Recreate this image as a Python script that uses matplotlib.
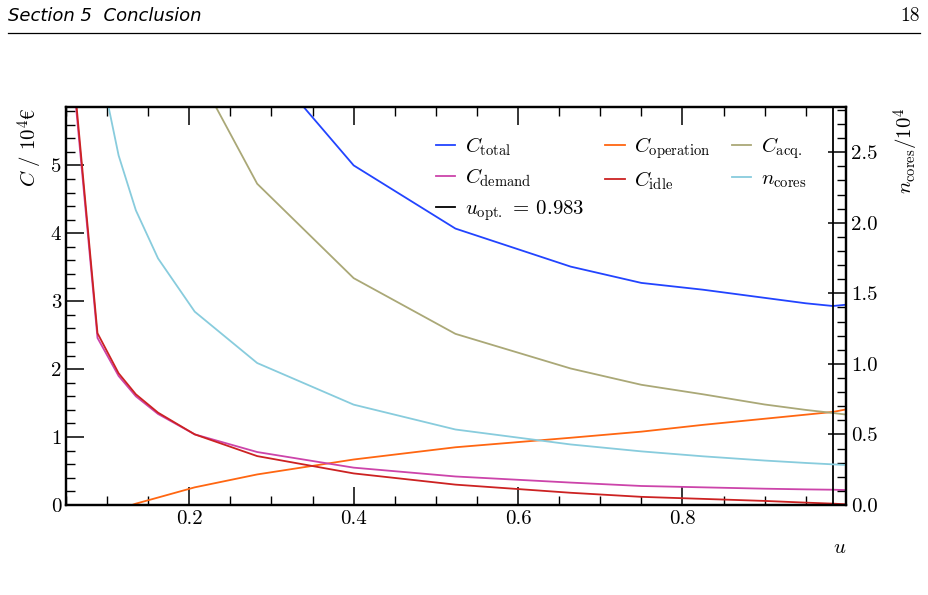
import numpy as np
import matplotlib
matplotlib.use("Agg")
import matplotlib.pyplot as plt
from matplotlib.ticker import MultipleLocator

plt.rcParams['font.family'] = ['cmr10', 'DejaVu Serif']
plt.rcParams['mathtext.fontset'] = 'cm'
plt.rcParams['axes.formatter.use_mathtext'] = True
plt.rcParams['axes.unicode_minus'] = False

# auslastung u und die kostenanteile (in 10^4 EUR)
u = [0.055, 0.0883, 0.114, 0.135, 0.162, 0.2066, 0.2826, 0.40, 0.5238,
     0.664, 0.75, 0.825, 0.90, 0.95, 0.983, 1.0]
c_total = [38.0, 20.2, 15.4, 13.0, 11.0, 8.78, 6.66, 5.00, 4.07,
           3.51, 3.27, 3.17, 3.05, 2.97, 2.93, 2.95]
c_operation = [-0.40, -0.20, -0.07, 0.02, 0.11, 0.26, 0.45, 0.67, 0.85,
               0.99, 1.08, 1.18, 1.27, 1.33, 1.37, 1.41]
c_acq = [24.0, 15.0, 11.6, 9.8, 8.2, 6.44, 4.73, 3.34, 2.52,
         2.01, 1.77, 1.63, 1.48, 1.40, 1.355, 1.33]
c_demand = [6.8, 2.46, 1.90, 1.60, 1.34, 1.04, 0.78, 0.55, 0.42,
            0.33, 0.28, 0.26, 0.24, 0.23, 0.225, 0.22]
c_idle = [6.9, 2.53, 1.94, 1.63, 1.36, 1.04, 0.72, 0.465, 0.30,
          0.18, 0.12, 0.09, 0.06, 0.035, 0.02, 0.01]
n_cores = [5.1, 3.2, 2.477, 2.088, 1.747, 1.370, 1.006, 0.711, 0.535,
           0.429, 0.38, 0.345, 0.315, 0.298, 0.288, 0.283]  # in 10^4
u_opt = 0.983

fig = plt.figure(figsize=(9.29, 5.95), dpi=100)
ax = fig.add_axes([66/929, 1-505/595, 780/929, 398/595])
ax2 = ax.twinx()

lw = 1.3
l_tot, = ax.plot(u, c_total, color='#2244ff', lw=lw, label=r'$C_{\mathrm{total}}$')
l_op, = ax.plot(u, c_operation, color='#ff6611', lw=lw, label=r'$C_{\mathrm{operation}}$')
l_acq, = ax.plot(u, c_acq, color='#aaa877', lw=lw, label=r'$C_{\mathrm{acq.}}$')
l_dem, = ax.plot(u, c_demand, color='#cc44aa', lw=lw, label=r'$C_{\mathrm{demand}}$')
l_idle, = ax.plot(u, c_idle, color='#cc2222', lw=lw, label=r'$C_{\mathrm{idle}}$')
l_n, = ax2.plot(u, n_cores, color='#88ccdd', lw=lw, label=r'$n_{\mathrm{cores}}$')
l_opt = ax.axvline(u_opt, color='black', lw=lw, label=r'$u_{\mathrm{opt.}}$ = 0.983')

ax.set_xlim(0.05, 0.999)
ax.set_ylim(0, 5.86)
ax2.set_ylim(0, 2.82)

ax.xaxis.set_major_locator(MultipleLocator(0.2))
ax.xaxis.set_minor_locator(MultipleLocator(0.05))
ax.yaxis.set_major_locator(MultipleLocator(1))
ax.yaxis.set_minor_locator(MultipleLocator(0.2))
ax2.yaxis.set_major_locator(MultipleLocator(0.5))
ax2.yaxis.set_minor_locator(MultipleLocator(0.1))

ax.tick_params(which='both', direction='in', top=True, right=False, labelsize=15)
ax.tick_params(which='major', length=13, width=1.1)
ax.tick_params(which='minor', length=6.5, width=1.0)
ax2.tick_params(which='both', direction='in', labelsize=15)
ax2.tick_params(which='major', length=13, width=1.1)
ax2.tick_params(which='minor', length=6.5, width=1.0)
for a in (ax, ax2):
    for s in a.spines.values():
        s.set_linewidth(1.6)

ax.xaxis.set_major_formatter(plt.FuncFormatter(lambda v, p: '%.1f' % v))
ax.yaxis.set_major_formatter(plt.FuncFormatter(lambda v, p: '%d' % v))
ax2.yaxis.set_major_formatter(plt.FuncFormatter(lambda v, p: '%.1f' % v))

ax.set_xlabel(r'$u$', loc='right', fontsize=15, labelpad=8)
ax.set_ylabel(r'$C\ /\ 10^4€$', loc='top', fontsize=15)
ax2.set_ylabel(r'$n_{\mathrm{cores}}/10^4$', loc='top', fontsize=15, labelpad=10)

handles = [l_tot, l_dem, l_opt, l_op, l_idle, l_acq, l_n]
ax.legend(handles=handles, ncol=3, frameon=False, fontsize=15,
          loc='upper right', bbox_to_anchor=(0.96, 0.95),
          handlelength=0.95, handletextpad=0.45, columnspacing=1.0,
          labelspacing=0.42, borderaxespad=0.0)

# seitenkopf
fig.text(8/929, 1-16/595, 'Section 5  Conclusion', family='DejaVu Sans',
         style='italic', fontsize=13, va='center', ha='left')
fig.text(920/929, 1-16/595, '18', fontsize=14, va='center', ha='right')
fig.add_artist(plt.Line2D([8/929, 920/929], [1-33/595, 1-33/595],
                          color='black', lw=0.9, transform=fig.transFigure))

fig.savefig('out.png', dpi=100)
